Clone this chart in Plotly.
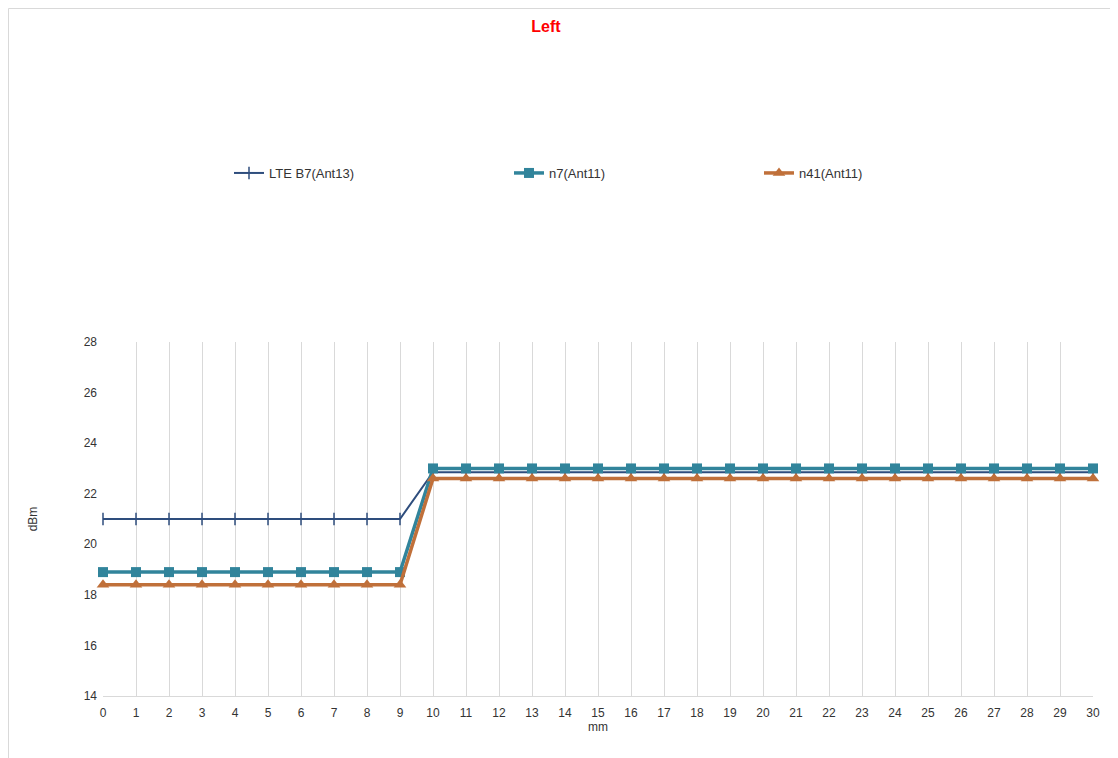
import plotly.graph_objects as go

mm = list(range(0, 31))
lte_b7 = [21.0] * 10 + [22.85] * 21
n7 = [18.9] * 10 + [23.0] * 21
n41 = [18.4] * 10 + [22.6] * 21

series_names = ["LTE B7(Ant13)", "n7(Ant11)", "n41(Ant11)"]
colors = ["#2E4D7D", "#31849B", "#C0703A"]
TXT = "#333333"

# page is offset by 8px body margin; work in figure coords = reference - 8
OFF = 8
W, H = 1110, 750
L = 103 - OFF
T = 342 - OFF
R = W - (1093 - OFF)
B = H - (696 - OFF)
pw, ph = W - L - R, H - T - B


def px(x):
    return (x - OFF - L) / pw


def py(y):
    return (H - B - (y - OFF)) / ph


fig = go.Figure()
fig.add_trace(go.Scatter(x=mm, y=lte_b7, name=series_names[0], mode="lines+markers",
                         line=dict(color=colors[0], width=2),
                         marker=dict(symbol="line-ns", size=9, line=dict(color=colors[0], width=1.5)),
                         cliponaxis=False, legend="legend"))
fig.add_trace(go.Scatter(x=mm, y=n7, name=series_names[1], mode="lines+markers",
                         line=dict(color=colors[1], width=3.5),
                         marker=dict(symbol="square", size=10, color=colors[1]),
                         cliponaxis=False, legend="legend2"))
fig.add_trace(go.Scatter(x=mm, y=n41, name=series_names[2], mode="lines+markers",
                         line=dict(color=colors[2], width=3.5),
                         marker=dict(symbol="triangle-up", size=11, color=colors[2]),
                         cliponaxis=False, legend="legend3"))

fig.add_shape(type="rect", xref="paper", yref="paper",
              x0=px(OFF + 0.5), x1=px(1140), y0=py(780), y1=py(OFF + 0.5),
              line=dict(color="#d9d9d9", width=1), fillcolor="rgba(0,0,0,0)", layer="below")

legend_x = [240, 520, 770]
leg_common = dict(orientation="h", xanchor="left", yanchor="middle", y=py(173),
                  font=dict(size=13, color=TXT), bgcolor="rgba(0,0,0,0)")

fig.update_layout(
    width=W, height=H,
    margin=dict(l=L, r=R, t=T, b=B),
    paper_bgcolor="white", plot_bgcolor="white",
    font=dict(family="Liberation Sans, Arial, sans-serif", size=12, color=TXT),
    title=dict(text="<b>Left</b>", x=px(546), xanchor="center", xref="paper",
               y=1 - (26 - OFF) / H, yanchor="middle",
               font=dict(size=16, color="#FF0000", family="Liberation Sans, Arial, sans-serif")),
    showlegend=True,
    legend=dict(x=px(legend_x[0] - 11), **leg_common),
    legend2=dict(x=px(legend_x[1] - 11), **leg_common),
    legend3=dict(x=px(legend_x[2] - 11), **leg_common),
    xaxis=dict(range=[0, 30], dtick=1, tick0=0, showgrid=True, gridcolor="#d9d9d9", gridwidth=1,
               showline=True, linecolor="#d9d9d9", linewidth=1, zeroline=False, ticks="",
               ticklabelstandoff=6,
               title=dict(text="mm", font=dict(size=12, color=TXT), standoff=2),
               tickfont=dict(size=12, color=TXT)),
    yaxis=dict(range=[14, 28], dtick=2, showgrid=False, zeroline=False, showline=False, ticks="",
               ticklabelstandoff=5,
               title=dict(text="dBm", font=dict(size=12, color=TXT), standoff=43),
               tickfont=dict(size=12, color=TXT)),
)

fig.write_html("out.html")
